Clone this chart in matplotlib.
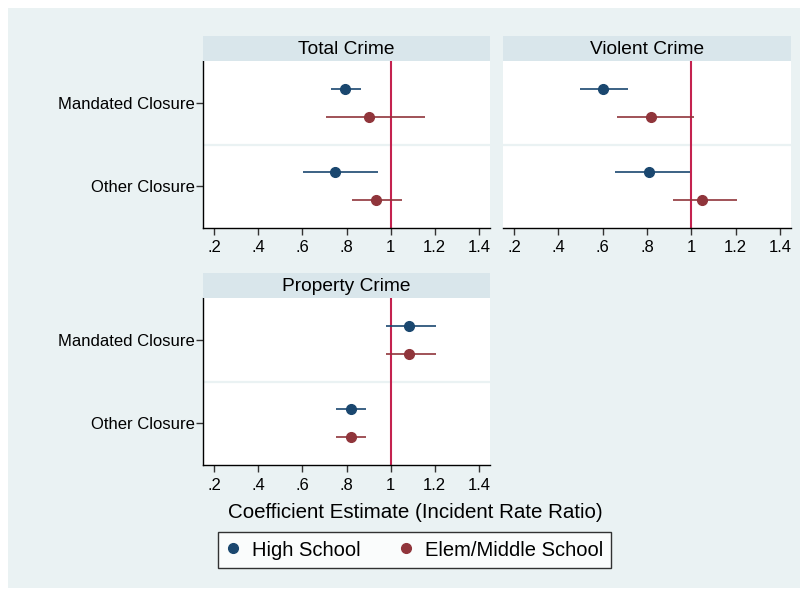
import numpy as np
import matplotlib.pyplot as plt
from matplotlib.patches import Rectangle
from matplotlib.lines import Line2D

plt.rcParams['font.family'] = ['Liberation Sans', 'DejaVu Sans']

# Incident rate ratios with 95% CIs, rows = (Mandated, Other)
panels = ["Total Crime", "Violent Crime", "Property Crime"]
categories = ["Mandated Closure", "Other Closure"]
groups = ["High School", "Elem/Middle School"]

hs_est = {"Total Crime": [0.793, 0.750],
          "Violent Crime": [0.601, 0.807],
          "Property Crime": [1.085, 0.819]}
hs_lo = {"Total Crime": [0.732, 0.604],
         "Violent Crime": [0.499, 0.655],
         "Property Crime": [0.977, 0.752]}
hs_hi = {"Total Crime": [0.864, 0.941],
         "Violent Crime": [0.716, 0.994],
         "Property Crime": [1.205, 0.888]}

em_est = {"Total Crime": [0.903, 0.932],
          "Violent Crime": [0.820, 1.050],
          "Property Crime": [1.085, 0.819]}
em_lo = {"Total Crime": [0.707, 0.823],
         "Violent Crime": [0.664, 0.918],
         "Property Crime": [0.977, 0.752]}
em_hi = {"Total Crime": [1.157, 1.051],
         "Violent Crime": [1.012, 1.204],
         "Property Crime": [1.205, 0.888]}

x_ticks = [0.2, 0.4, 0.6, 0.8, 1.0, 1.2, 1.4]
x_ticklabels = [".2", ".4", ".6", ".8", "1", "1.2", "1.4"]

NAVY = "#1A476F"
MAROON = "#90353B"
REFLINE = "#C4224F"
BG = "#EAF2F3"
STRIP = "#D9E6EB"

W, H = 808, 596
fig = plt.figure(figsize=(W / 100, H / 100), dpi=100)
fig.patch.set_facecolor("white")
fig.add_artist(Rectangle((8 / W, 8 / H), 792 / W, 580 / H, transform=fig.transFigure,
                         facecolor=BG, edgecolor="none", zorder=0))


def px_axes(x0, y0, x1, y1):
    return fig.add_axes([x0 / W, 1 - y1 / H, (x1 - x0) / W, (y1 - y0) / H])


# panel boxes in pixels: (left, top, right, bottom)
boxes = {"Total Crime": (203, 61, 490, 228),
         "Violent Crime": (503, 61, 791, 228),
         "Property Crime": (203, 298, 490, 465)}

ypos = np.arange(len(categories))
off = 0.17

for name in panels:
    x0, y0, x1, y1 = boxes[name]
    ax = px_axes(x0, y0, x1, y1)
    ax.set_facecolor("white")
    ax.set_xlim(0.15, 1.45)
    ax.set_ylim(1.5, -0.5)

    ax.axhline(0.5, color=BG, lw=1.6, zorder=1)
    ax.axvline(1.0, color=REFLINE, lw=1.5, zorder=2)

    for est, lo, hi, dy, col in [(hs_est, hs_lo, hs_hi, -off, NAVY),
                                 (em_est, em_lo, em_hi, off, MAROON)]:
        e = np.array(est[name])
        l = np.array(lo[name])
        h = np.array(hi[name])
        ax.errorbar(e, ypos + dy, xerr=[e - l, h - e], fmt="o", color=col,
                    ms=7, elinewidth=1.2, capsize=0, zorder=3)

    for s in ["top", "right"]:
        ax.spines[s].set_visible(False)
    for s in ["left", "bottom"]:
        ax.spines[s].set_color("black")
        ax.spines[s].set_linewidth(1.0)

    ax.set_xticks(x_ticks)
    ax.set_xticklabels(x_ticklabels, fontsize=12)
    ax.tick_params(axis="x", length=5, width=1, color="#333333", pad=4)
    ax.set_yticks(ypos)
    if name == "Violent Crime":
        # right-hand panel shares the row labels, no y axis drawn
        ax.spines["left"].set_visible(False)
        ax.set_yticklabels([])
        ax.tick_params(axis="y", length=0)
    else:
        ax.set_yticklabels(categories, fontsize=12)
        ax.tick_params(axis="y", length=5, width=1, color="#333333", pad=1)

    # strip header
    sx = px_axes(x0, y0 - 25, x1, y0)
    sx.set_facecolor(STRIP)
    sx.set_xticks([])
    sx.set_yticks([])
    for s in sx.spines.values():
        s.set_visible(False)
    sx.text(0.5, 0.45, name, ha="center", va="center", fontsize=13.8,
            transform=sx.transAxes)

fig.text(415 / W, 1 - 513 / H, "Coefficient Estimate (Incident Rate Ratio)",
         ha="center", va="center", fontsize=14.8)

handles = [Line2D([], [], ls="none", marker="o", color=NAVY, ms=7),
           Line2D([], [], ls="none", marker="o", color=MAROON, ms=7)]
leg = fig.legend(handles, groups, loc="center", bbox_to_anchor=(414.5 / W, 1 - 550 / H),
                 ncol=2, fontsize=14.5, frameon=True, fancybox=False,
                 handlelength=0.7, handletextpad=0.6, columnspacing=1.9,
                 borderpad=0.4)
leg.get_frame().set_edgecolor("black")
leg.get_frame().set_linewidth(1.0)
leg.get_frame().set_facecolor("white")

fig.savefig("out.png", dpi=100)
